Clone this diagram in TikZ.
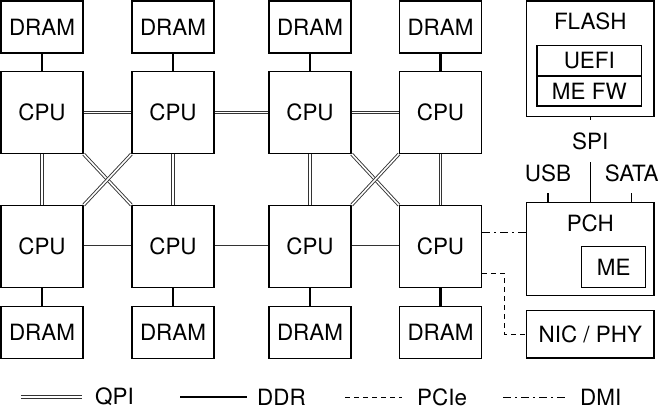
\documentclass[tikz,border=0pt]{standalone}
\usepackage{fontspec}
\setmainfont{TeX Gyre Heros}

\begin{document}
\begin{tikzpicture}[x=1bp,y=-1bp,
  every node/.style={font=\fontsize{22.5}{27}\selectfont},
  box/.style={draw,line width=1.2bp,inner sep=0pt},
  cpu/.style={box,minimum width=82bp,minimum height=82bp},
  dram/.style={box,minimum width=82bp,minimum height=52bp},
  qpi/.style={double,double distance=1.6bp,line width=0.9bp,draw=black!80},
  ddr/.style={line width=2.4bp},
  pcie/.style={line width=1.2bp,dash pattern=on 5bp off 4bp},
  dmi/.style={line width=1.2bp,dash pattern=on 8bp off 4bp on 2bp off 4bp}]

\useasboundingbox (0,0) rectangle (660,410);

\node[dram] (D1) at (42,27) {DRAM};
\node[dram] (D2) at (173,27) {DRAM};
\node[dram] (D3) at (310,27) {DRAM};
\node[dram] (D4) at (440.5,27) {DRAM};

\node[cpu] (C1) at (42,112.5) {CPU};
\node[cpu] (C2) at (173,112.5) {CPU};
\node[cpu] (C3) at (310,112.5) {CPU};
\node[cpu] (C4) at (440.5,112.5) {CPU};

\node[cpu] (C5) at (42,246.7) {CPU};
\node[cpu] (C6) at (173,246.7) {CPU};
\node[cpu] (C7) at (310,246.7) {CPU};
\node[cpu] (C8) at (440.5,246.7) {CPU};

\node[dram] (D5) at (42,332.4) {DRAM};
\node[dram] (D6) at (173,332.4) {DRAM};
\node[dram] (D7) at (310,332.4) {DRAM};
\node[dram] (D8) at (440.5,332.4) {DRAM};

\node[box,minimum width=127.3bp,minimum height=115.7bp] (FLASH) at (590.3,58.8) {};
\node (FLASHT) at (590.3,21.7) {FLASH};
\node[box,minimum width=104.7bp,minimum height=30.3bp] (UEFI) at (589.3,60.8) {UEFI};
\node[box,minimum width=104.7bp,minimum height=30bp] (MEFW) at (589.3,91) {ME FW};

\node[inner sep=0pt,minimum height=42bp] (SPI) at (590.3,141) {SPI};
\node[inner sep=0pt,minimum height=40bp] (USB) at (548,173) {USB};
\node[inner sep=0pt,minimum height=40bp] (SATA) at (631.7,173) {SATA};

\node[box,minimum width=127.3bp,minimum height=93bp] (PCH) at (590.3,249.2) {};
\node (PCHT) at (590.3,223) {PCH};
\node[box,minimum width=64bp,minimum height=41bp] (ME) at (613.7,267.2) {ME};

\node[box,minimum width=127.3bp,minimum height=47.3bp] (NIC) at (590.3,334.3) {NIC / PHY};

\draw[ddr] (D1) -- (C1);
\draw[ddr] (D2) -- (C2);
\draw[ddr] (D3) -- (C3);
\draw[ddr] (D4) -- (C4);
\draw[ddr] (C5) -- (D5);
\draw[ddr] (C6) -- (D6);
\draw[ddr] (C7) -- (D7);
\draw[ddr] (C8) -- (D8);

\draw[qpi] (C1) -- (C2);
\draw[qpi] (C2) -- (C3);
\draw[qpi] (C3) -- (C4);
\draw[qpi] (C5) -- (C6);
\draw[qpi] (C6) -- (C7);
\draw[qpi] (C7) -- (C8);
\draw[qpi] (C1) -- (C5);
\draw[qpi] (C2) -- (C6);
\draw[qpi] (C3) -- (C7);
\draw[qpi] (C4) -- (C8);
\draw[qpi] (C1.south east) -- (C6.north west);
\draw[qpi] (C2.south west) -- (C5.north east);
\draw[qpi] (C3.south east) -- (C8.north west);
\draw[qpi] (C4.south west) -- (C7.north east);

\draw[line width=1.2bp] (FLASH.south) -- (SPI.north);
\draw[line width=1.2bp] (SPI.south) -- (PCH.north);
\draw[line width=1.2bp] (USB.south) -- (USB.south |- PCH.north);
\draw[line width=1.2bp] (SATA.south) -- (SATA.south |- PCH.north);

\draw[dmi] ([yshift=14bp]C8.east) -- ([yshift=14bp]C8.east -| PCH.west);
\draw[pcie] ([yshift=-26.6bp]C8.east) -- ++(22,0) |- (NIC.west);

\coordinate (QA) at (21,397);
\coordinate (QB) at (82,397);
\coordinate (RA) at (180,397);
\coordinate (RB) at (247,397);
\coordinate (PA) at (345,397);
\coordinate (PB) at (402,397);
\coordinate (MA) at (503,397);
\coordinate (MB) at (565,397);

\draw[qpi] (QA) -- (QB);
\node[anchor=west,inner sep=0pt] (QPI) at (95,397) {QPI};
\draw[ddr] (RA) -- (RB);
\node[anchor=west,inner sep=0pt] (DDR) at (257,397) {DDR};
\draw[pcie,line width=1bp] (PA) -- (PB);
\node[anchor=west,inner sep=0pt] (PCIE) at (417,397) {PCIe};
\draw[dmi,line width=1bp] (MA) -- (MB);
\node[anchor=west,inner sep=0pt] (DMI) at (580,397) {DMI};

\end{tikzpicture}
\end{document}
